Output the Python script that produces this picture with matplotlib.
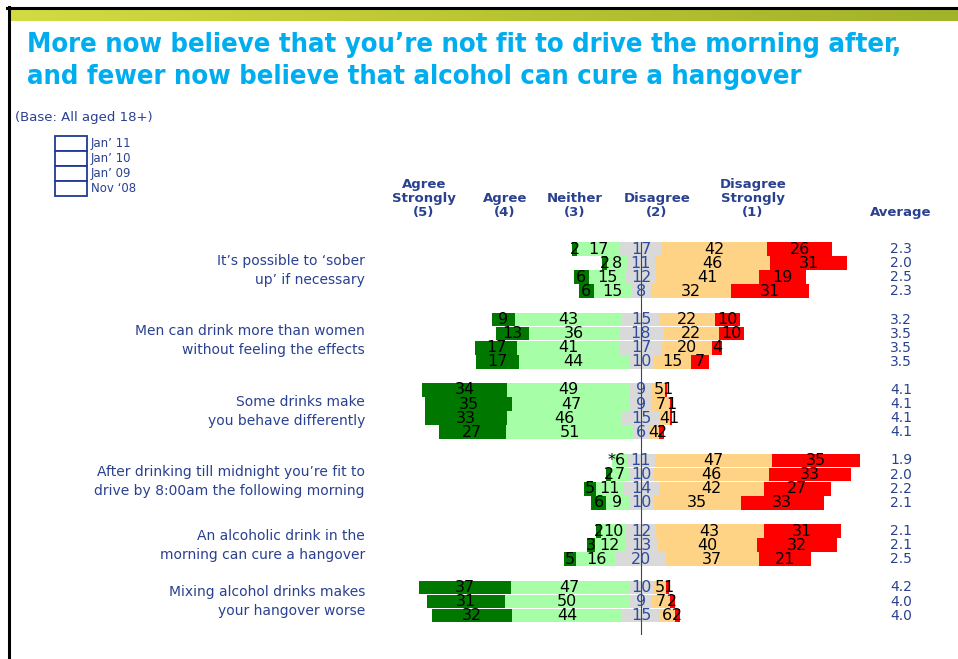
import numpy as np
import matplotlib
matplotlib.use("Agg")
import matplotlib.pyplot as plt
from matplotlib.patches import Rectangle
from matplotlib.lines import Line2D
from matplotlib.colors import LinearSegmentedColormap
from matplotlib.transforms import blended_transform_factory

# ---------------------------------------------------------------- data
statements = [
    "It’s possible to ‘sober\nup’ if necessary",
    "Men can drink more than women\nwithout feeling the effects",
    "Some drinks make\nyou behave differently",
    "After drinking till midnight you’re fit to\ndrive by 8:00am the following morning",
    "An alcoholic drink in the\nmorning can cure a hangover",
    "Mixing alcohol drinks makes\nyour hangover worse",
]
waves = ["Jan’ 11", "Jan’ 10", "Jan’ 09", "Nov ‘08"]
response_headers = ["Agree\nStrongly\n(5)", "Agree\n(4)", "Neither\n(3)",
                    "Disagree\n(2)", "Disagree\nStrongly\n(1)"]

# one list per statement, one value per survey wave (0 = under 0.5%, shown as *)
agree_strongly = [[2, 2, 6, 6], [9, 13, 17, 17], [34, 35, 33, 27],
                  [0, 2, 5, 6], [2, 3, 5], [37, 31, 32]]
agree = [[17, 8, 15, 15], [43, 36, 41, 44], [49, 47, 46, 51],
         [6, 7, 11, 9], [10, 12, 16], [47, 50, 44]]
neither = [[17, 11, 12, 8], [15, 18, 17, 10], [9, 9, 15, 6],
           [11, 10, 14, 10], [12, 13, 20], [10, 9, 15]]
disagree = [[42, 46, 41, 32], [22, 22, 20, 15], [5, 7, 4, 4],
            [47, 46, 42, 35], [43, 40, 37], [5, 7, 6]]
disagree_strongly = [[26, 31, 19, 31], [10, 10, 4, 7], [1, 1, 1, 2],
                     [35, 33, 27, 33], [31, 32, 21], [1, 2, 2]]
averages = [[2.3, 2.0, 2.5, 2.3], [3.2, 3.5, 3.5, 3.5], [4.1, 4.1, 4.1, 4.1],
            [1.9, 2.0, 2.2, 2.1], [2.1, 2.1, 2.5], [4.2, 4.0, 4.0]]

# ---------------------------------------------------------------- style
W, H = 958, 659
NAVY = "#2A4190"
NEITHER_TXT = "#2F4C9E"
CYAN = "#00AEEF"
C_AS, C_A, C_N, C_D, C_DS = "#007800", "#A6FFA6", "#D9D9D9", "#FFD386", "#FF0000"
NUM_FONT = ["Liberation Sans Narrow", "DejaVu Sans"]

PX_PER_PCT = 2.5      # horizontal scale
CENTER_X = 641        # zero line position
ROW_PX = 14.1         # row pitch
FIRST_ROW_Y = 249     # centre of first row

fig = plt.figure(figsize=(W / 100, H / 100), dpi=100)
fig.patch.set_facecolor("white")


def fx(x):
    return x / W


def fy(y):
    return 1 - y / H


ax = fig.add_axes([0, 0, 1, 1])
ax.set_xlim(-CENTER_X / PX_PER_PCT, (W - CENTER_X) / PX_PER_PCT)
ax.set_ylim((H - FIRST_ROW_Y) / ROW_PX, -FIRST_ROW_Y / ROW_PX)
ax.axis("off")

# ---------------------------------------------------------------- bars
starts = []
r = 0
for g in range(len(statements)):
    starts.append(r)
    r += len(neither[g]) + 1

bar_h = 0.97
fs_num = 11.5
digit_w = 8.6 / PX_PER_PCT   # width of one digit (plus a little air) in % units

for g in range(len(statements)):
    for i in range(len(neither[g])):
        y = starts[g] + i
        a_s, a, n = agree_strongly[g][i], agree[g][i], neither[g][i]
        d, d_s = disagree[g][i], disagree_strongly[g][i]
        segs = [
            (-n / 2 - a - a_s, a_s, C_AS, "black"),
            (-n / 2 - a, a, C_A, "black"),
            (-n / 2, n, C_N, NEITHER_TXT),
            (n / 2, d, C_D, "black"),
            (n / 2 + d, d_s, C_DS, "black"),
        ]
        label_x = []
        for left, w, col, tcol in segs:
            ax.barh(y, w, left=left, height=bar_h, color=col, linewidth=0, zorder=2)
            label_x.append(left + w / 2)
        labels = [str(s[1]) if s[1] > 0 else "*" for s in segs]
        # keep the labels of thin outer segments clear of their neighbours
        need = (len(labels[3]) + len(labels[4])) / 2 * digit_w
        if label_x[4] - label_x[3] < need:
            label_x[4] = label_x[3] + need
        need = (len(labels[0]) + len(labels[1])) / 2 * digit_w
        if label_x[1] - label_x[0] < need:
            label_x[0] = label_x[1] - need
        for (left, w, col, tcol), lx, lab in zip(segs, label_x, labels):
            ax.text(lx, y, lab, ha="center", va="center", fontsize=fs_num,
                    family=NUM_FONT, color=tcol, zorder=4)

# zero line
ax.plot([0, 0], [starts[0] - 0.5, starts[-1] + len(neither[-1]) + 0.3],
        color="#444444", lw=0.8, zorder=3)

# ---------------------------------------------------------------- row texts
tr_label = blended_transform_factory(fig.transFigure, ax.transData)
for g, text in enumerate(statements):
    yc = starts[g] + (len(neither[g]) - 1) / 2
    ax.text(fx(365), yc, text, transform=tr_label, ha="right", va="center",
            multialignment="right", fontsize=10, color=NAVY, linespacing=1.45)
    for i, v in enumerate(averages[g]):
        ax.text(fx(901), starts[g] + i, f"{v:.1f}", transform=tr_label,
                ha="center", va="center", fontsize=10, color=NAVY)

# ---------------------------------------------------------------- headers
header_x = [424, 505, 575, 657, 753]
for x, t in zip(header_x, response_headers):
    fig.text(fx(x), fy(219), t, ha="center", va="bottom", multialignment="center",
             fontsize=9.5, fontweight="bold", color=NAVY, linespacing=1.1)
fig.text(fx(901), fy(219), "Average", ha="center", va="bottom",
         fontsize=9.5, fontweight="bold", color=NAVY)

# ---------------------------------------------------------------- title
title_lines = ["More now believe that you’re not fit to drive the morning after,",
               "and fewer now believe that alcohol can cure a hangover"]
renderer = fig.canvas.get_renderer()
t1 = fig.text(fx(27), fy(45), title_lines[0], ha="left", va="center",
              fontsize=20, fontweight="bold", color=CYAN, fontstretch="condensed")
wid = t1.get_window_extent(renderer).width
title_fs = 20 * 880 / wid
t1.set_fontsize(title_fs)
fig.text(fx(27), fy(77), title_lines[1], ha="left", va="center",
         fontsize=title_fs, fontweight="bold", color=CYAN, fontstretch="condensed")

# ---------------------------------------------------------------- base + legend
fig.text(fx(15), fy(118), "(Base: All aged 18+)", ha="left", va="center",
         fontsize=9.5, color=NAVY)
for i, wv in enumerate(waves):
    top = 136 + 15 * i
    fig.patches.append(Rectangle((fx(55), fy(top + 15)), 32 / W, 15 / H,
                                 transform=fig.transFigure, facecolor="white",
                                 edgecolor="#1F3A93", lw=1.3))
    fig.text(fx(91), fy(top + 7.5), wv, ha="left", va="center",
             fontsize=8.5, color=NAVY)

# ---------------------------------------------------------------- frame
band = fig.add_axes([fx(10), fy(21), (W - 10) / W, 11 / H])
grad = np.linspace(0, 1, 256).reshape(1, -1)
band_cmap = LinearSegmentedColormap.from_list("band", ["#D3DB42", "#B9C632", "#A2B229"])
band.imshow(grad, aspect="auto", cmap=band_cmap)
band.axis("off")

fig.lines.append(Line2D([fx(7), 1], [fy(8), fy(8)], transform=fig.transFigure,
                        color="black", lw=2.2))
fig.lines.append(Line2D([fx(8.5), fx(8.5)], [fy(7), 0], transform=fig.transFigure,
                        color="black", lw=2.2))

fig.savefig("out.png", dpi=100)
